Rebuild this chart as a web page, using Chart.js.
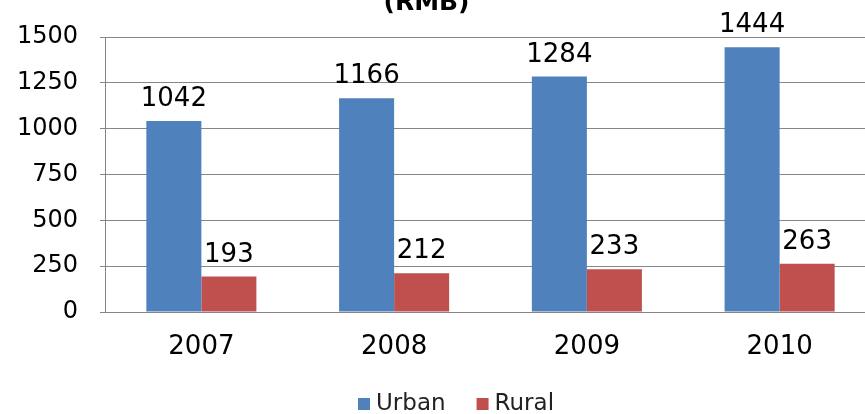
<!DOCTYPE html>
<html>
<head>
<meta charset="utf-8">
<script src="https://cdn.jsdelivr.net/npm/chart.js@4.4.1/dist/chart.umd.min.js"></script>
<style>
    html, body { margin: 0; padding: 0; background: #fff; }
    #wrap { position: relative; width: 865px; height: 414px; overflow: hidden; }
    #chart { position: absolute; left: 0; top: 0; }
</style>
</head>
<body>
<div id="wrap">
    <canvas id="chart" width="880" height="414"></canvas>
</div>
<script>
const years = ['2007', '2008', '2009', '2010'];
const urbanValues = [1042, 1166, 1284, 1444];
const ruralValues = [193, 212, 233, 263];
const titleText = '(RMB)';

const blue = '#4F81BD';
const red = '#C0504D';
const gridColor = '#868686';

// Numbers above each bar
const valueLabels = {
    id: 'valueLabels',
    afterDatasetsDraw(chart) {
        const ctx = chart.ctx;
        ctx.save();
        ctx.font = '26px "DejaVu Sans"';
        ctx.fillStyle = '#000';
        ctx.textAlign = 'center';
        ctx.textBaseline = 'alphabetic';
        chart.data.datasets.forEach((ds, i) => {
            chart.getDatasetMeta(i).data.forEach((bar, j) => {
                ctx.fillText(String(ds.data[j]), bar.x, bar.y - 15);
            });
        });
        ctx.restore();
    }
};

// Title line and legend drawn by hand
const decorations = {
    id: 'decorations',
    afterDraw(chart) {
        const ctx = chart.ctx;
        ctx.save();
        ctx.fillStyle = '#000';
        ctx.font = 'bold 25px "DejaVu Sans"';
        ctx.textAlign = 'center';
        ctx.textBaseline = 'alphabetic';
        ctx.fillText(titleText, 426.5, 10);

        ctx.font = '23px "DejaVu Sans"';
        ctx.textAlign = 'left';
        let x = 358;
        const base = 410;
        chart.data.datasets.forEach(ds => {
            ctx.fillStyle = ds.backgroundColor;
            ctx.fillRect(x, base - 12, 12, 12);
            ctx.fillStyle = '#222';
            ctx.fillText(ds.label, x + 18, base);
            x += 18 + ctx.measureText(ds.label).width + 31;
        });
        ctx.restore();
    }
};

new Chart(document.getElementById('chart'), {
    type: 'bar',
    data: {
        labels: years,
        datasets: [
            { label: 'Urban', data: urbanValues, backgroundColor: blue },
            { label: 'Rural', data: ruralValues, backgroundColor: red }
        ]
    },
    options: {
        responsive: false,
        devicePixelRatio: 1,
        animation: false,
        categoryPercentage: 0.571,
        barPercentage: 1,
        layout: {
            padding: { top: 37, right: 4, left: 0, bottom: 0 }
        },
        plugins: {
            legend: { display: false },
            title: { display: false },
            tooltip: { enabled: false }
        },
        scales: {
            x: {
                grid: { display: false, drawTicks: false },
                border: { display: true, color: gridColor, width: 1 },
                ticks: {
                    color: '#000',
                    font: { family: 'DejaVu Sans', size: 26 },
                    padding: 20
                },
                afterFit(scale) { scale.height = 102; }
            },
            y: {
                min: 0,
                max: 1500,
                ticks: {
                    stepSize: 250,
                    color: '#000',
                    font: { family: 'DejaVu Sans', size: 24 },
                    padding: 22,
                    callback: value => String(value)
                },
                grid: { color: gridColor, lineWidth: 1, tickLength: 5 },
                border: { display: true, color: gridColor, width: 1 },
                afterFit(scale) { scale.width = 105; }
            }
        }
    },
    plugins: [valueLabels, decorations]
});
</script>
</body>
</html>
